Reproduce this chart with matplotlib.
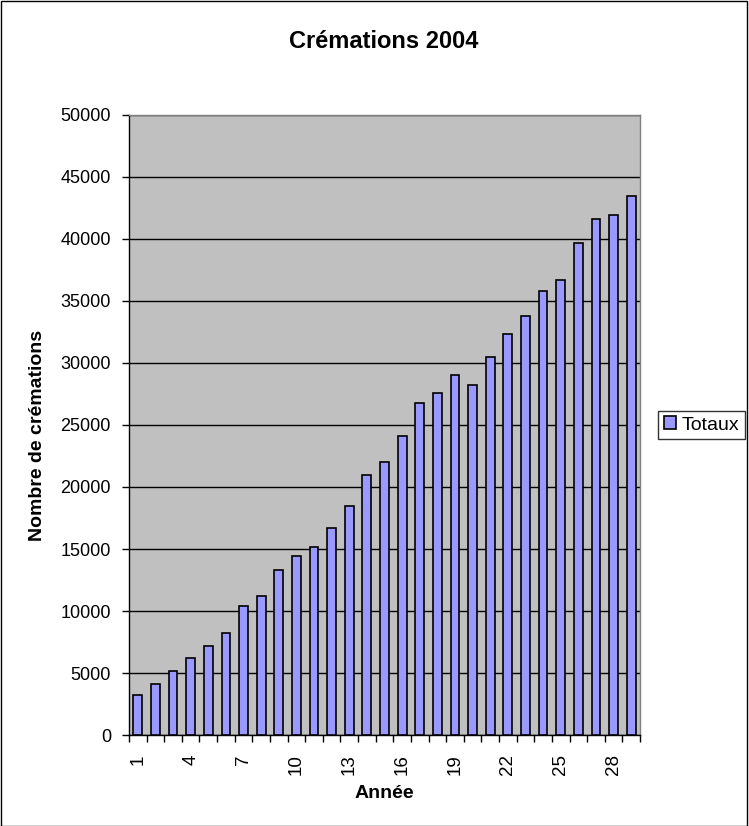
import matplotlib
matplotlib.use("Agg")
import matplotlib.pyplot as plt
from matplotlib.patches import Rectangle
from matplotlib.ticker import FixedLocator, MultipleLocator

plt.rcParams['font.family'] = ['Liberation Sans', 'DejaVu Sans']

# Data
years = list(range(1, 30))
totaux = [3200, 4100, 5200, 6200, 7150, 8200, 10400, 11250, 13300, 14400,
          15150, 16700, 18450, 21000, 22000, 24100, 26750, 27600, 29000, 28250,
          30500, 32300, 33800, 35800, 36700, 39700, 41600, 41950, 43450]
tick_labels = [str(y) for y in years[::3]]

title = "Crémations 2004"
xlabel = "Année"
ylabel = "Nombre de crémations"
series_name = "Totaux"

W, H = 749, 826
fig = plt.figure(figsize=(W / 100, H / 100), dpi=100)
ax = fig.add_axes([129 / W, 1 - 735 / H, (640 - 129) / W, (735 - 115) / H])

ax.set_facecolor('#C0C0C0')
ax.bar(years, totaux, width=0.5, color='#9999FF', edgecolor='black',
       linewidth=1.2, label=series_name, zorder=3)

ax.set_xlim(0.5, len(years) + 0.5)
ax.set_ylim(0, 50000)
ax.yaxis.set_major_locator(MultipleLocator(5000))
ax.grid(axis='y', color='black', linewidth=1, zorder=1)
ax.set_axisbelow(True)

ax.xaxis.set_major_locator(FixedLocator(years[::3]))
ax.set_xticklabels(tick_labels, rotation=90, fontsize=13.5)
ax.xaxis.set_minor_locator(FixedLocator([i + 0.5 for i in range(0, len(years) + 1)]))
ax.tick_params(axis='x', which='major', length=0, pad=14)
ax.tick_params(axis='x', which='minor', length=5, width=1, direction='out', color='black')
ax.tick_params(axis='y', which='major', length=5, width=1, direction='out', labelsize=13, pad=8)

for side in ('top', 'right'):
    ax.spines[side].set_color('#808080')
    ax.spines[side].set_linewidth(1)
for side in ('left', 'bottom'):
    ax.spines[side].set_color('black')
    ax.spines[side].set_linewidth(1)

fig.text(384 / W, 1 - 41 / H, title, fontsize=17, fontweight='bold',
         ha='center', va='center')
fig.text(384 / W, 1 - 794 / H, xlabel, fontsize=14, fontweight='bold',
         ha='center', va='center')
fig.text(38 / W, 1 - 435 / H, ylabel, fontsize=14, fontweight='bold',
         ha='center', va='center', rotation=90)

leg = fig.legend(loc='center left', bbox_to_anchor=(658 / W, 1 - 425 / H),
                 fontsize=14, frameon=True, fancybox=False, edgecolor='black',
                 handlelength=0.6, handleheight=0.6, handletextpad=0.3,
                 borderpad=0.3, borderaxespad=0)
leg.get_frame().set_linewidth(1)

# Chart border
fig.patches.append(Rectangle((0.5 / W, 0), 746 / W, 1 - 0.5 / H,
                             transform=fig.transFigure, fill=False,
                             edgecolor='black', linewidth=1))

fig.savefig('out.png', dpi=100)
